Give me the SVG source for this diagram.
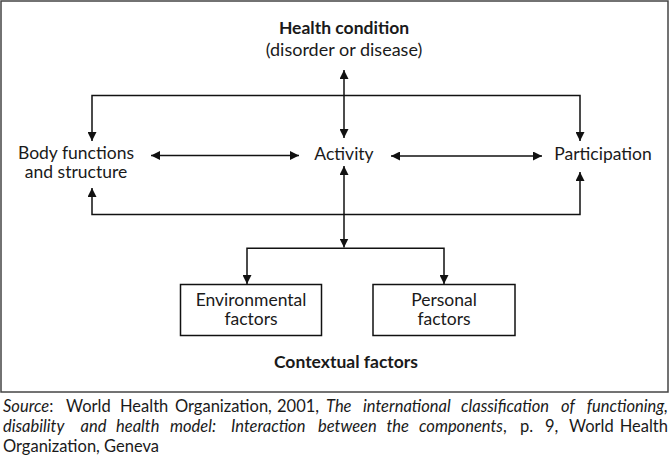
<svg xmlns="http://www.w3.org/2000/svg" width="670" height="460" viewBox="0 0 670 460">
<style>
text{font-family:Lato,"Liberation Sans",sans-serif;fill:#1a1a1a}
.lbl{font-size:17.5px;text-anchor:middle}
.b{font-weight:bold}
.src{font-size:16.5px}
.it{font-style:italic}
.ln{fill:none;stroke:#111;stroke-width:1.5}
.box{fill:#fff;stroke:#111;stroke-width:1.5}
</style>
<defs>
<marker id="ah" viewBox="0 0 10 10" refX="10" refY="5" markerWidth="9" markerHeight="9" markerUnits="userSpaceOnUse" orient="auto-start-reverse">
<path d="M0,0 L10,5 L0,10 Z" fill="#111"/>
</marker>
</defs>
<rect x="1" y="1" width="667" height="391" fill="#fff" stroke="#444" stroke-width="1.5"/>
<g id="connectors">
<line class="ln" x1="344" y1="70" x2="344" y2="138" marker-start="url(#ah)" marker-end="url(#ah)"/>
<path class="ln" d="M92,141 V95.5 H580 V141" marker-start="url(#ah)" marker-end="url(#ah)"/>
<path class="ln" d="M92,188 V214.5 H580 V172" marker-start="url(#ah)" marker-end="url(#ah)"/>
<line class="ln" x1="151" y1="155.5" x2="299" y2="155.5" marker-start="url(#ah)" marker-end="url(#ah)"/>
<line class="ln" x1="391" y1="156" x2="542" y2="156" marker-start="url(#ah)" marker-end="url(#ah)"/>
<line class="ln" x1="344" y1="166" x2="344" y2="247.5" marker-start="url(#ah)" marker-end="url(#ah)"/>
<path class="ln" d="M247,284 V248.3 H444 V284" marker-start="url(#ah)" marker-end="url(#ah)"/>
</g>
<g id="health">
<text class="lbl" x="344" y="33.5"><tspan class="b">Health condition</tspan><tspan x="344" dy="22" style="font-size:18px">(disorder or disease)</tspan></text>
</g>
<g id="body">
<text class="lbl" x="76" y="159">Body functions<tspan x="76" dy="19">and structure</tspan></text>
</g>
<g id="activity">
<text class="lbl" x="344" y="159.5">Activity</text>
</g>
<g id="participation">
<text class="lbl" x="603" y="160">Participation</text>
</g>
<g id="environmental">
<rect class="box" x="180.5" y="284.5" width="141" height="51"/>
<text class="lbl" x="251" y="305.5">Environmental<tspan x="251" dy="19">factors</tspan></text>
</g>
<g id="personal">
<rect class="box" x="373" y="284.5" width="142" height="51"/>
<text class="lbl" x="444" y="305.5">Personal<tspan x="444" dy="19">factors</tspan></text>
</g>
<g id="contextual">
<text class="lbl b" x="346" y="368">Contextual factors</text>
</g>
<g id="source">
<text class="src" y="412"><tspan x="3" class="it">Source</tspan><tspan>:</tspan><tspan x="66">World</tspan><tspan x="120">Health</tspan><tspan x="175">Organization,</tspan><tspan x="277">2001,</tspan><tspan x="326" class="it">The</tspan><tspan x="363" class="it">international</tspan><tspan x="461" class="it">classification</tspan><tspan x="561" class="it">of</tspan><tspan x="668" class="it" text-anchor="end">functioning,</tspan></text>
<text class="src" y="432"><tspan x="3" class="it">disability</tspan><tspan x="80.5" class="it">and</tspan><tspan x="116" class="it">health</tspan><tspan x="170" class="it">model:</tspan><tspan x="231" class="it">Interaction</tspan><tspan x="318" class="it">between</tspan><tspan x="386.5" class="it">the</tspan><tspan x="419" class="it">components</tspan><tspan>,</tspan><tspan x="520">p.</tspan><tspan x="545">9,</tspan><tspan x="569">World</tspan><tspan x="668" text-anchor="end">Health</tspan></text>
<text class="src" x="3" y="452">Organization, Geneva</text>
</g>
</svg>
